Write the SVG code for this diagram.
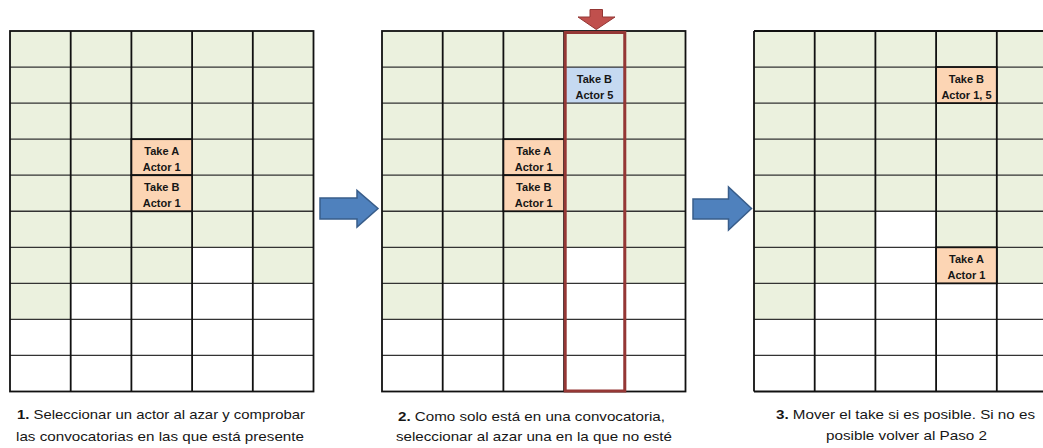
<svg xmlns="http://www.w3.org/2000/svg" width="1043" height="448" viewBox="0 0 1043 448">
  <style>
    .green { fill: #ebf1de; }
    .vline { stroke: #111; stroke-width: 1.8; fill: none; }
    .hline { stroke: #333; stroke-width: 1.3; fill: none; }
    .frame { stroke: #111; stroke-width: 1.8; fill: none; }
    .take { fill: #fcd5b4; stroke: #111; stroke-width: 1.8; }
    .take-new { fill: #c5d9f1; stroke: none; }
    .cell-text { font-family: "Liberation Sans", Arial, sans-serif; font-size: 11px; font-weight: bold; fill: #161616; text-anchor: middle; }
    .caption { font-family: "Liberation Sans", Arial, sans-serif; font-size: 13.5px; fill: #161616; }
    .caption .num { font-weight: bold; }
    .step-arrow { fill: #4f81bd; stroke: #385d8a; stroke-width: 1.5; stroke-linejoin: miter; }
    .col-arrow { fill: #c0504d; stroke: #943634; stroke-width: 1; }
    .col-frame { fill: none; stroke: #953735; stroke-width: 3; }
  </style>
  <defs>
    <!-- 5 x 10 cell grid, columns 60.7 wide, rows 36.05 high -->
    <path id="gridLinesV" d="M60.7 0V360.5M121.4 0V360.5M182.1 0V360.5M242.8 0V360.5"/>
    <path id="gridLinesH" d="M0 36.05H303.5M0 72.1H303.5M0 108.15H303.5M0 144.2H303.5M0 180.25H303.5M0 216.3H303.5M0 252.35H303.5M0 288.4H303.5M0 324.45H303.5"/>
    <path id="usedA" d="M0 0H303.5V252.35H242.8V216.3H182.1V252.35H60.7V288.4H0Z"/>
    <path id="usedB" d="M0 0H303.5V252.35H182.1V180.25H121.4V252.35H60.7V288.4H0Z"/>
  </defs>

  <!-- Step 1 -->
  <g id="panel1" transform="translate(10,31)">
    <rect width="303.5" height="360.5" fill="#fff"/>
    <use href="#usedA" class="green"/>
    <use href="#gridLinesH" class="hline"/>
    <use href="#gridLinesV" class="vline"/>
    <rect width="303.5" height="360.5" class="frame"/>
    <g id="p1-takeA">
      <rect x="121.4" y="108.15" width="60.7" height="36.05" class="take"/>
      <text class="cell-text" x="151.75" y="124.3">Take A</text>
      <text class="cell-text" x="151.75" y="140.3">Actor 1</text>
    </g>
    <g id="p1-takeB">
      <rect x="121.4" y="144.2" width="60.7" height="36.05" class="take"/>
      <text class="cell-text" x="151.75" y="159.9">Take B</text>
      <text class="cell-text" x="151.75" y="175.9">Actor 1</text>
    </g>
  </g>

  <!-- Step 2 -->
  <g id="panel2" transform="translate(382,31)">
    <rect width="303.5" height="360.5" fill="#fff"/>
    <use href="#usedA" class="green"/>
    <rect x="182.1" y="36.05" width="60.7" height="36.05" class="take-new"/>
    <use href="#gridLinesH" class="hline"/>
    <use href="#gridLinesV" class="vline"/>
    <rect width="303.5" height="360.5" class="frame"/>
    <g id="p2-takeB5">
      <text class="cell-text" x="212.45" y="51.9">Take B</text>
      <text class="cell-text" x="212.45" y="67.9">Actor 5</text>
    </g>
    <g id="p2-takeA">
      <rect x="121.4" y="108.15" width="60.7" height="36.05" class="take"/>
      <text class="cell-text" x="151.75" y="124.3">Take A</text>
      <text class="cell-text" x="151.75" y="140.3">Actor 1</text>
    </g>
    <g id="p2-takeB">
      <rect x="121.4" y="144.2" width="60.7" height="36.05" class="take"/>
      <text class="cell-text" x="151.75" y="159.9">Take B</text>
      <text class="cell-text" x="151.75" y="175.9">Actor 1</text>
    </g>
    <!-- chosen column -->
    <rect id="p2-column" x="183.2" y="1.5" width="59.6" height="358.5" class="col-frame"/>
  </g>

  <!-- Step 3 -->
  <g id="panel3" transform="translate(754,31)">
    <rect width="303.5" height="360.5" fill="#fff"/>
    <use href="#usedB" class="green"/>
    <use href="#gridLinesH" class="hline"/>
    <use href="#gridLinesV" class="vline"/>
    <path d="M0 0H303.5M0 360.5H303.5M0 0V360.5" class="frame"/>
    <g id="p3-takeB">
      <rect x="182.1" y="36.05" width="60.7" height="36.05" class="take"/>
      <text class="cell-text" x="212.45" y="51.9">Take B</text>
      <text class="cell-text" x="212.45" y="67.9">Actor 1, 5</text>
    </g>
    <g id="p3-takeA">
      <rect x="182.1" y="216.3" width="60.7" height="36.05" class="take"/>
      <text class="cell-text" x="212.45" y="232">Take A</text>
      <text class="cell-text" x="212.45" y="248">Actor 1</text>
    </g>
  </g>

  <!-- connectors between steps -->
  <g id="connectors">
    <polygon class="step-arrow" points="320,198 357,198 357,190.5 378,208.5 357,227 357,219 320,219"/>
    <polygon class="step-arrow" points="693,199 728.5,199 728.5,187 751.5,208.5 728.5,230 728.5,219 693,219"/>
    <polygon class="col-arrow" points="590,9.5 602.5,9.5 602.5,17 615,17 596.3,29.5 578,17 590,17"/>
  </g>

  <!-- captions -->
  <g id="caption1" class="caption">
    <text x="17" y="418.5" textLength="288" lengthAdjust="spacingAndGlyphs"><tspan class="num">1.</tspan> Seleccionar un actor al azar y comprobar</text>
    <text x="16" y="440.5" textLength="288" lengthAdjust="spacingAndGlyphs">las convocatorias en las que está presente</text>
  </g>
  <g id="caption2" class="caption">
    <text x="398" y="421" textLength="267" lengthAdjust="spacingAndGlyphs"><tspan class="num">2.</tspan> Como solo está en una convocatoria,</text>
    <text x="396" y="441" textLength="276" lengthAdjust="spacingAndGlyphs">seleccionar al azar una en la que no esté</text>
  </g>
  <g id="caption3" class="caption">
    <text x="776" y="418.5" textLength="259" lengthAdjust="spacingAndGlyphs"><tspan class="num">3.</tspan> Mover el take si es posible. Si no es</text>
    <text x="826" y="440" textLength="161" lengthAdjust="spacingAndGlyphs">posible volver al Paso 2</text>
  </g>
</svg>
